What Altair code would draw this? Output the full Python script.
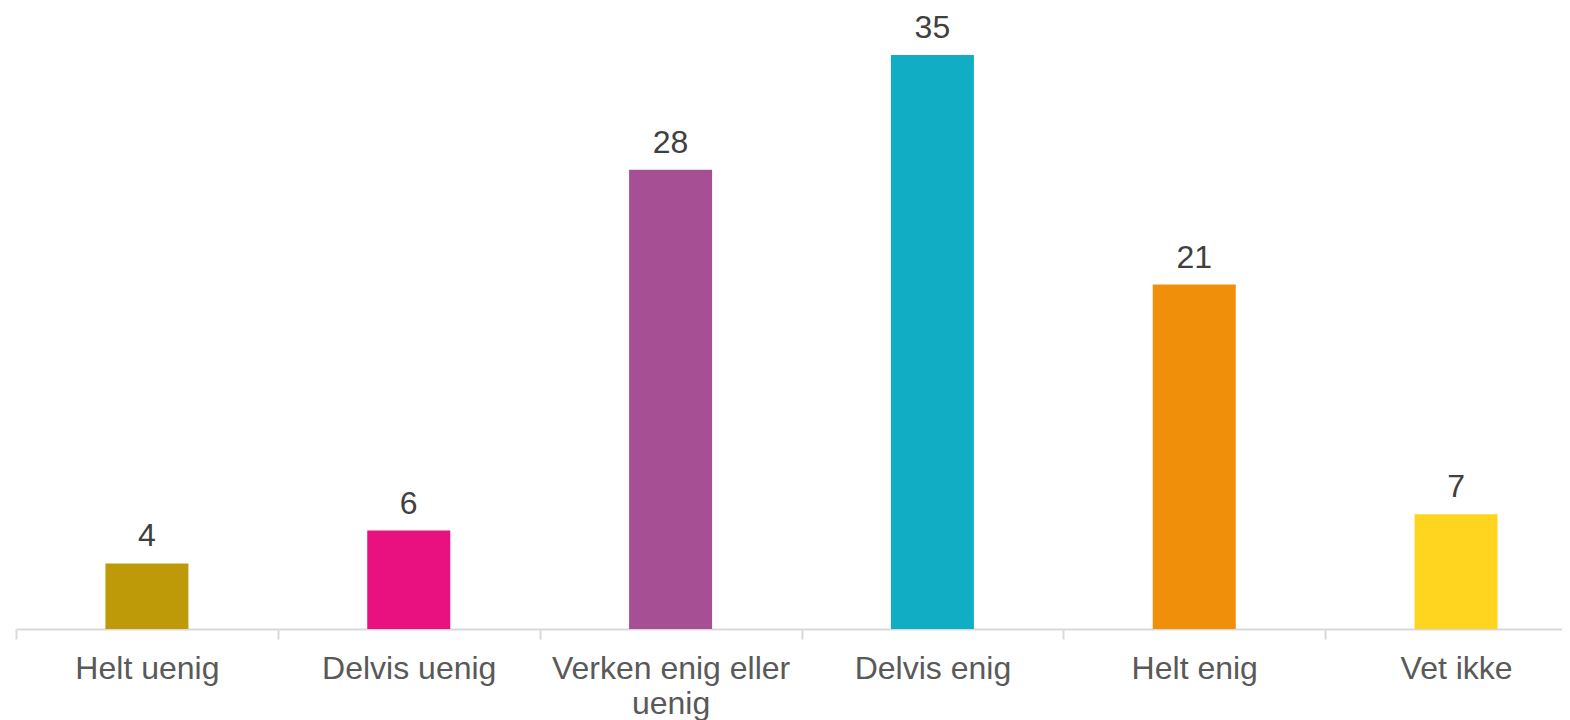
import altair as alt
import pandas as pd

categories = ["Helt uenig", "Delvis uenig", "Verken enig eller uenig", "Delvis enig", "Helt enig", "Vet ikke"]
values = [4, 6, 28, 35, 21, 7]
colors = ["#BE9A09", "#E8117F", "#A64F94", "#10ADC5", "#F08F0A", "#FFD520"]

df = pd.DataFrame({"cat": categories, "val": values, "col": colors})

FONT = "Liberation Sans"

x = alt.X(
    "cat:N",
    sort=categories,
    title=None,
    scale=alt.Scale(range=[0, 1571], paddingInner=0.683, paddingOuter=0.3415),
    axis=alt.Axis(
        labelAngle=0,
        labelFont=FONT,
        labelFontSize=32,
        labelColor="#595959",
        labelPadding=14,
        labelLineHeight=35,
        labelBaseline="top",
        labelLimit=0,
        labelExpr="datum.label == 'Verken enig eller uenig' ? ['Verken enig eller', 'uenig'] : datum.label",
        domainColor="#D9D9D9",
        domainWidth=2,
        tickColor="#D9D9D9",
        tickWidth=2,
        tickSize=10,
        tickOffset=-130.9,
        labelOffset=130.9,
        labelOverlap=False,
    ),
)
y = alt.Y(
    "val:Q",
    title=None,
    scale=alt.Scale(domain=[0, 35], nice=False),
    axis=None,
)

bars = alt.Chart(df).mark_bar().encode(
    x=x, y=y, color=alt.Color("col:N", scale=None, legend=None)
)
text = alt.Chart(df).mark_text(
    baseline="alphabetic", dy=-17, font=FONT, fontSize=32, color="#404040"
).encode(x=alt.X("cat:N", sort=categories), y="val:Q", text="val:Q")

chart = (
    alt.layer(bars, text)
    .properties(
        width=1546,
        height=574,
        padding={"left": 8, "top": 47, "right": 0, "bottom": 91},
        autosize=alt.AutoSizeParams(type="none"),
    )
    .configure_view(stroke=None)
)

chart.save("out.html", embed_options={"renderer": "svg", "actions": False})
